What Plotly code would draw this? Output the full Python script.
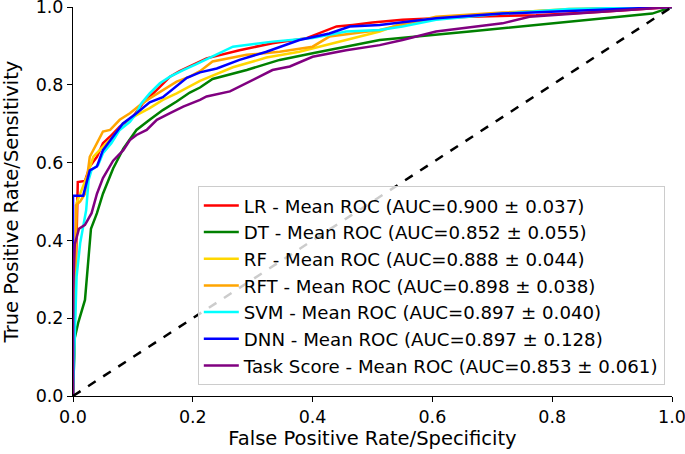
import plotly.graph_objects as go

names = ["LR", "DT", "RF", "RFT", "SVM", "DNN", "Task Score"]
auc_mean = ["0.900", "0.852", "0.888", "0.898", "0.897", "0.897", "0.853"]
auc_std = ["0.037", "0.055", "0.044", "0.038", "0.040", "0.128", "0.061"]
colors = ["#ff0000", "#008000", "#ffd700", "#ffa500", "#00ffff", "#0000ff", "#800080"]

lr_fpr = [0, 0.004, 0.008, 0.02, 0.028, 0.04, 0.05, 0.062, 0.078, 0.1, 0.117, 0.14, 0.162, 0.178, 0.206, 0.223, 0.278, 0.333, 0.39, 0.44, 0.467, 0.5, 0.55, 0.662, 0.773, 0.883, 1.0]
lr_tpr = [0, 0.25, 0.55, 0.553, 0.59, 0.615, 0.65, 0.667, 0.692, 0.718, 0.753, 0.787, 0.821, 0.835, 0.855, 0.868, 0.889, 0.907, 0.92, 0.95, 0.954, 0.96, 0.967, 0.975, 0.979, 0.988, 1.0]

dt_fpr = [0, 0.003, 0.009, 0.02, 0.03, 0.04, 0.05, 0.067, 0.084, 0.106, 0.128, 0.15, 0.173, 0.195, 0.212, 0.233, 0.29, 0.345, 0.4, 0.456, 0.512, 0.662, 0.828, 0.967, 1.0]
dt_tpr = [0, 0.15, 0.19, 0.247, 0.43, 0.47, 0.52, 0.585, 0.636, 0.684, 0.71, 0.735, 0.757, 0.78, 0.793, 0.815, 0.838, 0.864, 0.881, 0.898, 0.915, 0.937, 0.963, 0.983, 1.0]

rf_fpr = [0, 0.004, 0.006, 0.023, 0.034, 0.05, 0.067, 0.084, 0.106, 0.128, 0.15, 0.173, 0.195, 0.212, 0.267, 0.323, 0.378, 0.433, 0.478, 0.512, 0.55, 0.662, 0.828, 1.0]
rf_tpr = [0, 0.3, 0.496, 0.564, 0.615, 0.641, 0.667, 0.701, 0.722, 0.74, 0.761, 0.778, 0.795, 0.81, 0.845, 0.87, 0.885, 0.907, 0.924, 0.937, 0.958, 0.979, 0.995, 1.0]

rft_fpr = [0, 0.003, 0.005, 0.012, 0.02, 0.028, 0.04, 0.05, 0.062, 0.078, 0.095, 0.112, 0.128, 0.15, 0.173, 0.195, 0.212, 0.233, 0.29, 0.345, 0.4, 0.428, 0.467, 0.512, 0.606, 0.717, 0.883, 1.0]
rft_tpr = [0, 0.2, 0.49, 0.5, 0.52, 0.615, 0.65, 0.68, 0.684, 0.71, 0.727, 0.748, 0.765, 0.787, 0.808, 0.821, 0.835, 0.86, 0.877, 0.885, 0.898, 0.924, 0.932, 0.941, 0.975, 0.986, 0.996, 1.0]

svm_fpr = [0, 0.003, 0.006, 0.012, 0.017, 0.022, 0.026, 0.031, 0.042, 0.05, 0.064, 0.078, 0.095, 0.106, 0.114, 0.128, 0.145, 0.162, 0.184, 0.206, 0.267, 0.333, 0.4, 0.456, 0.512, 0.55, 0.606, 0.717, 0.828, 1.0]
svm_tpr = [0, 0.187, 0.307, 0.393, 0.432, 0.478, 0.555, 0.581, 0.594, 0.624, 0.65, 0.684, 0.705, 0.727, 0.752, 0.778, 0.804, 0.821, 0.838, 0.853, 0.898, 0.911, 0.92, 0.937, 0.941, 0.95, 0.967, 0.983, 0.995, 1.0]

dnn_fpr = [0, 0, 0.017, 0.028, 0.04, 0.05, 0.067, 0.083, 0.106, 0.128, 0.15, 0.167, 0.19, 0.212, 0.24, 0.278, 0.323, 0.378, 0.428, 0.462, 0.512, 0.606, 0.717, 0.828, 1.0]
dnn_tpr = [0, 0.515, 0.515, 0.58, 0.59, 0.632, 0.667, 0.7, 0.727, 0.755, 0.768, 0.79, 0.818, 0.832, 0.842, 0.864, 0.885, 0.915, 0.932, 0.95, 0.954, 0.971, 0.983, 0.99, 1.0]

task_fpr = [0, 0, 0.003, 0.01, 0.02, 0.031, 0.04, 0.05, 0.067, 0.084, 0.095, 0.106, 0.123, 0.14, 0.162, 0.184, 0.212, 0.223, 0.262, 0.29, 0.333, 0.362, 0.4, 0.456, 0.512, 0.55, 0.606, 0.717, 0.762, 0.883, 1.0]
task_tpr = [0, 0.265, 0.39, 0.43, 0.44, 0.47, 0.52, 0.56, 0.605, 0.632, 0.658, 0.671, 0.684, 0.71, 0.727, 0.744, 0.761, 0.77, 0.783, 0.804, 0.838, 0.847, 0.872, 0.889, 0.902, 0.915, 0.937, 0.958, 0.975, 0.988, 1.0]

chance = [0, 1]

x_ticks = [0.0, 0.2, 0.4, 0.6, 0.8, 1.0]
tick_text = ["0.0", "0.2", "0.4", "0.6", "0.8", "1.0"]

curves = [(lr_fpr, lr_tpr), (dt_fpr, dt_tpr), (rf_fpr, rf_tpr), (rft_fpr, rft_tpr),
          (svm_fpr, svm_tpr), (dnn_fpr, dnn_tpr), (task_fpr, task_tpr)]

fig = go.Figure()
for (fx, ty), name, m, s, c in zip(curves, names, auc_mean, auc_std, colors):
    fig.add_trace(go.Scatter(
        x=fx, y=ty, mode="lines",
        name=f"{name} - Mean ROC (AUC={m} \u00b1 {s})",
        line=dict(color=c, width=2.5),
    ))

fig.add_trace(go.Scatter(
    x=chance, y=chance, mode="lines", showlegend=False,
    line=dict(color="black", width=2.5, dash="dash"),
))

font_family = "DejaVu Sans"
axis_common = dict(
    range=[0, 1], tickvals=x_ticks, ticktext=tick_text, automargin=False,
    ticklabeloverflow="allow",
    showgrid=False, zeroline=False, showline=True, linecolor="black", linewidth=1,
    ticks="outside", ticklen=5, tickwidth=1, tickcolor="black",
    tickfont=dict(family=font_family, size=17.5, color="black"),
)

fig.update_layout(
    width=685, height=454,
    margin=dict(l=73, r=13, t=7, b=58),
    plot_bgcolor="white", paper_bgcolor="white",
    font=dict(family=font_family, color="black"),
    xaxis=dict(**axis_common, title=dict(text="False Positive Rate/Specificity",
                                          font=dict(family=font_family, size=19.5), standoff=5)),
    yaxis=dict(**axis_common, title=dict(text="True Positive Rate/Sensitivity",
                                          font=dict(family=font_family, size=19.5), standoff=12)),
    legend=dict(
        x=0.988, y=0.028, xanchor="right", yanchor="bottom",
        bgcolor="rgba(255,255,255,0.8)", bordercolor="#cccccc", borderwidth=1,
        itemwidth=35,
        font=dict(family=font_family, size=18.2, color="black"),
    ),
)

fig.write_html(
    "out.html",
    config={"displayModeBar": False},
    post_script="document.body.style.margin='0';document.body.style.overflow='hidden';",
)
